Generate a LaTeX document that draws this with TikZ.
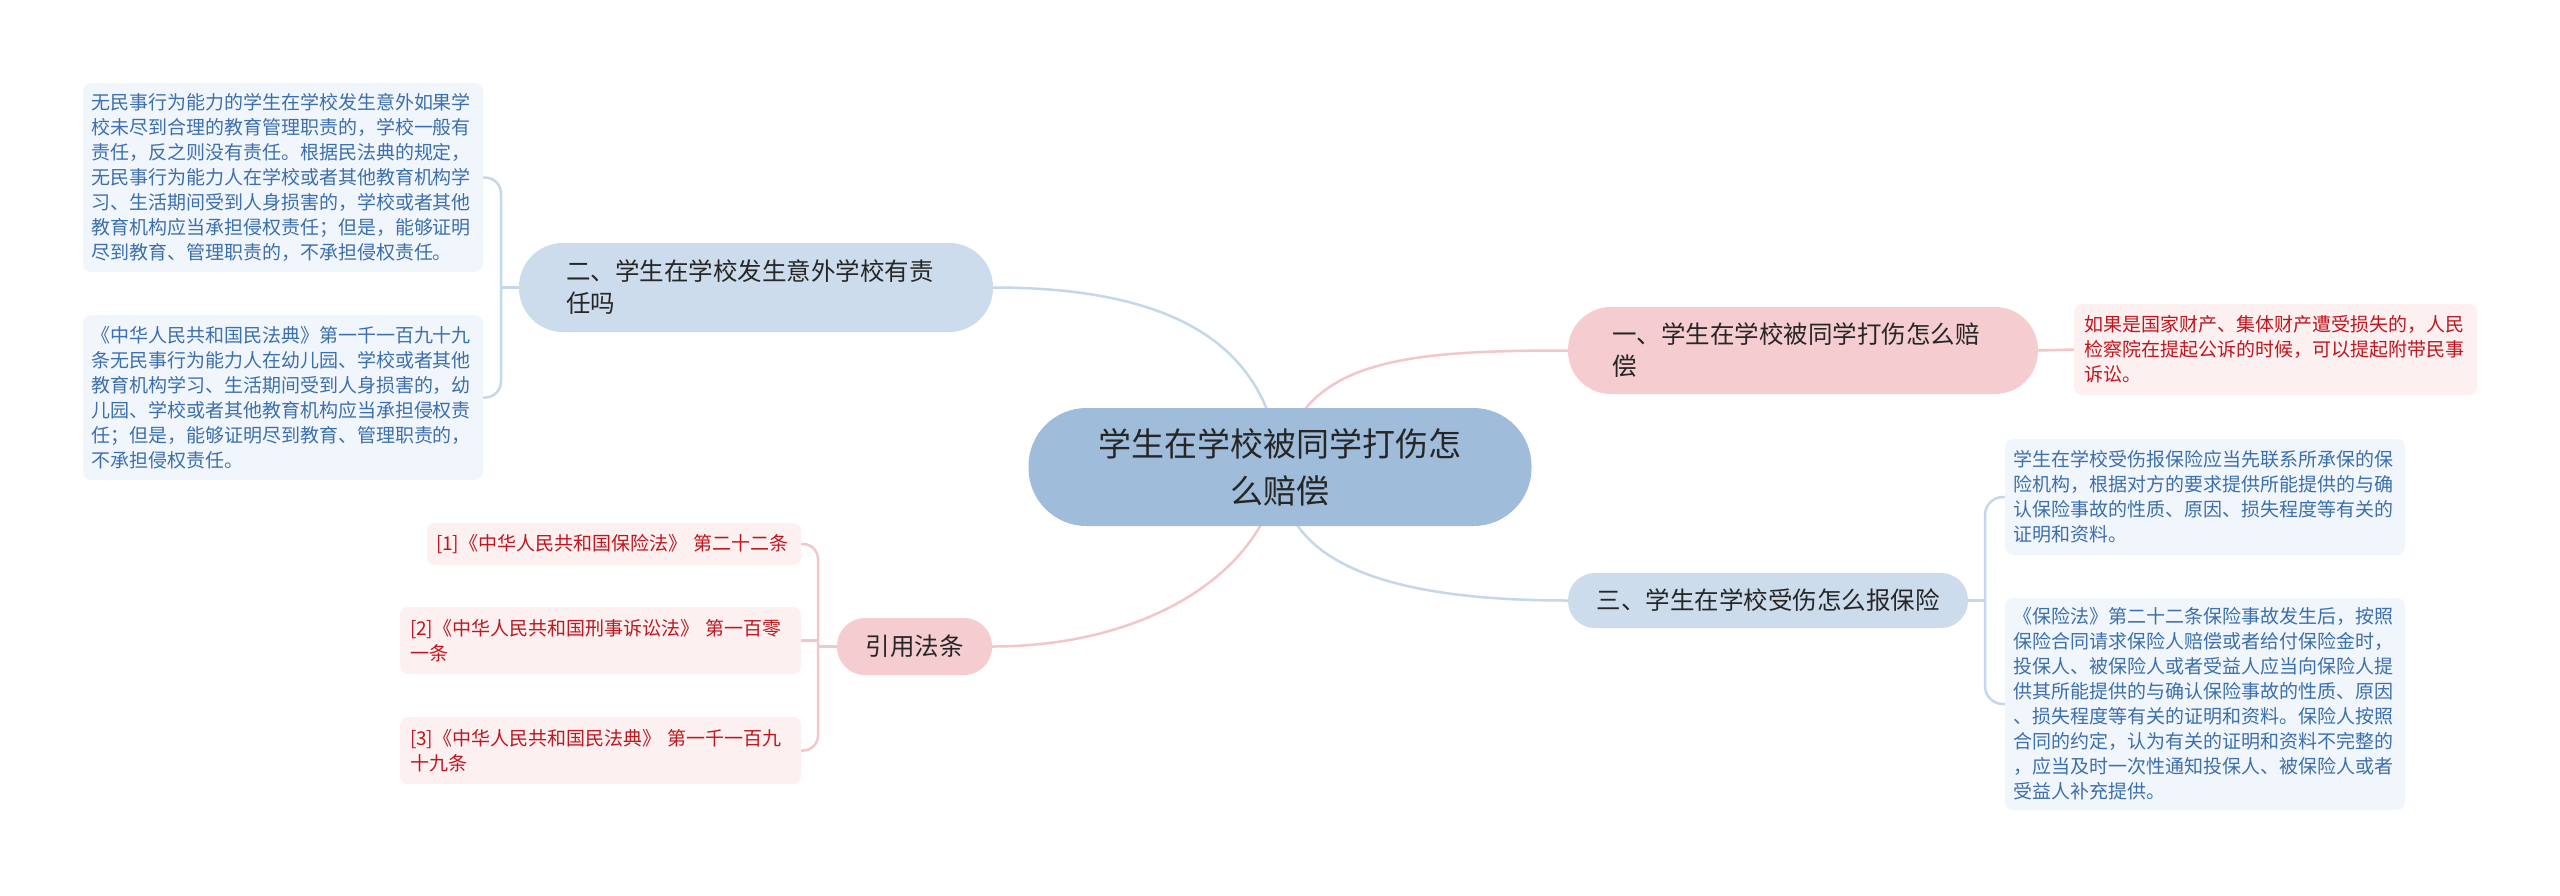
\documentclass[tikz,border=0pt]{standalone}
\usepackage{fontspec}
\setmainfont{Noto Sans CJK SC}
\usetikzlibrary{backgrounds}
\definecolor{cmain}{HTML}{9FBDDB}
\definecolor{cblue}{HTML}{CCDCEC}
\definecolor{cpink}{HTML}{F5CDD0}
\definecolor{leafblue}{HTML}{F1F6FC}
\definecolor{leafpink}{HTML}{FDF0F1}
\definecolor{textblue}{HTML}{3C6FAE}
\definecolor{textred}{HTML}{C0161E}
\definecolor{lineblue}{HTML}{C5D7EA}
\definecolor{linepink}{HTML}{F2C6CA}
\definecolor{cdark}{HTML}{262626}
\begin{document}
\begin{tikzpicture}[x=1pt,y=-1pt,
  mainnode/.style={fill=cmain, rounded corners=58pt, minimum width=503pt, minimum height=118pt,
    align=center, font=\fontsize{33pt}{47pt}\selectfont, text=cdark, inner sep=0pt},
  subnode/.style={font=\fontsize{24.5pt}{32pt}\selectfont, text=cdark, inner ysep=0pt},
  subblue/.style={subnode, fill=cblue},
  subpink/.style={subnode, fill=cpink},
  leaf/.style={rounded corners=8pt, font=\fontsize{19pt}{25pt}\selectfont, align=left, inner ysep=0pt},
  leafb/.style={leaf, fill=leafblue, text=textblue, text width=384pt, inner xsep=8pt},
  leafp/.style={leaf, fill=leafpink, text=textred},
  lb/.style={draw=lineblue, line width=2.5pt},
  lp/.style={draw=linepink, line width=2.5pt}
]
\useasboundingbox (0,0) rectangle (2560,895);

% central
\node[mainnode] (c) at (1280,467) {学生在学校被同学打伤怎\\么赔偿};

% main branches
\node[subblue, rounded corners=44pt, align=left, text width=380pt, inner xsep=47pt, minimum height=89pt] (n2) at (756,287.5) {二、学生在学校发生意外学校有责\\任吗};
\node[subpink, rounded corners=43pt, align=left, text width=382pt, inner xsep=44pt, minimum height=87pt] (n1) at (1803,350.5) {一、学生在学校被同学打伤怎么赔\\偿};
\node[subblue, rounded corners=27pt, align=center, minimum width=400pt, minimum height=55pt] (n3) at (1768,600.5) {三、学生在学校受伤怎么报保险};
\node[subpink, rounded corners=28pt, align=center, minimum width=155pt, minimum height=57pt] (ny) at (914.5,646.5) {引用法条};

% leaves left
\node[leafb, minimum height=189pt] (L1) at (283,177.5) {无民事行为能力的学生在学校发生意外如果学\\校未尽到合理的教育管理职责的，学校一般有\\责任，反之则没有责任。根据民法典的规定，\\无民事行为能力人在学校或者其他教育机构学\\习、生活期间受到人身损害的，学校或者其他\\教育机构应当承担侵权责任；但是，能够证明\\尽到教育、管理职责的，不承担侵权责任。};
\node[leafb, minimum height=165pt] (L2) at (283,397.5) {《中华人民共和国民法典》第一千一百九十九\\条无民事行为能力人在幼儿园、学校或者其他\\教育机构学习、生活期间受到人身损害的，幼\\儿园、学校或者其他教育机构应当承担侵权责\\任；但是，能够证明尽到教育、管理职责的，\\不承担侵权责任。};

% leaves right
\node[leafp, text width=382pt, inner xsep=10.5pt, minimum height=91pt] (R1) at (2275.5,349.5) {如果是国家财产、集体财产遭受损失的，人民\\检察院在提起公诉的时候，可以提起附带民事\\诉讼。};
\node[leafb, minimum height=116pt] (R2) at (2205,497) {学生在学校受伤报保险应当先联系所承保的保\\险机构，根据对方的要求提供所能提供的与确\\认保险事故的性质、原因、损失程度等有关的\\证明和资料。};
\node[leafb, minimum height=212pt] (R3) at (2205,704) {《保险法》第二十二条保险事故发生后，按照\\保险合同请求保险人赔偿或者给付保险金时，\\投保人、被保险人或者受益人应当向保险人提\\供其所能提供的与确认保险事故的性质、原因\\、损失程度等有关的证明和资料。保险人按照\\合同的约定，认为有关的证明和资料不完整的\\，应当及时一次性通知投保人、被保险人或者\\受益人补充提供。};

% citation leaves
\node[leafp, text width=356pt, inner xsep=9pt, minimum height=42pt] (C1) at (614,544) {[1]《中华人民共和国保险法》 第二十二条};
\node[leafp, text width=381pt, inner xsep=10pt, minimum height=67pt] (C2) at (600.5,640.5) {[2]《中华人民共和国刑事诉讼法》 第一百零\\一条};
\node[leafp, text width=381pt, inner xsep=10pt, minimum height=67pt] (C3) at (600.5,750.5) {[3]《中华人民共和国民法典》 第一千一百九\\十九条};

\coordinate (s2) at (501,287.5);
\coordinate (s3) at (1985,600.5);
\coordinate (sy) at (818,646.5);

\begin{pgfonlayer}{background}
\fill[white] (0,0) rectangle (2560,895);
\draw[lb] (c.center) .. controls (1268,330) and (1150,287.5) .. (n2.east);
\draw[lp] (c.center) .. controls (1300,360) and (1400,350.5) .. (n1.west);
\draw[lb] (c.center) .. controls (1280,560) and (1380,600.5) .. (n3.west);
\draw[lp] (c.center) .. controls (1268,570) and (1150,646.5) .. (ny.east);
\draw[lb, rounded corners=16pt] (L1.east) -| (s2) |- (L2.east);
\draw[lb] (n2.west) -- (s2);
\draw[lb, rounded corners=18pt] (R2.west) -| (s3) |- (R3.west);
\draw[lb] (n3.east) -- (s3);
\draw[lp, rounded corners=15pt] (C1.east) -| (sy) |- (C3.east);
\draw[lp] (ny.west) -- (sy);
\draw[lp] (C2.east) -- (C2.east -| sy);
\draw[lp] (n1.east) -- (R1.west);
\end{pgfonlayer}
\end{tikzpicture}
\end{document}
